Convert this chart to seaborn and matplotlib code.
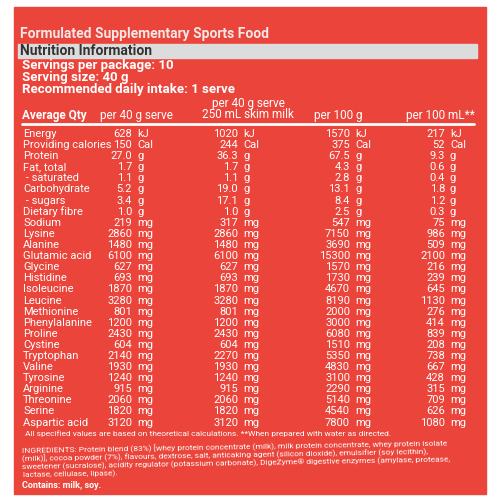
import matplotlib
matplotlib.use("Agg")
import matplotlib.pyplot as plt
import seaborn as sns

sns.set_theme(style="white")
plt.rcParams['font.family'] = ['Roboto', 'DejaVu Sans']

NUTRIENTS = ["Energy", "Providing calories", "Protein", "Fat, total", " - saturated",
             "Carbohydrate", " - sugars", "Dietary fibre", "Sodium", "Lysine", "Alanine",
             "Glutamic acid", "Glycine", "Histidine", "Isoleucine", "Leucine", "Methionine",
             "Phenylalanine", "Proline", "Cystine", "Tryptophan", "Valine", "Tyrosine",
             "Arginine", "Threonine", "Serine", "Aspartic acid"]
UNITS = ["kJ", "Cal", "g", "g", "g", "g", "g", "g"] + ["mg"] * 19
PER_SERVE = ["628", "150", "27.0", "1.7", "1.1", "5.2", "3.4", "1.0", "219", "2860", "1480",
             "6100", "627", "693", "1870", "3280", "801", "1200", "2430", "604", "2140",
             "1930", "1240", "915", "2060", "1820", "3120"]
PER_SERVE_MILK = ["1020", "244", "36.3", "1.7", "1.1", "19.0", "17.1", "1.0", "317", "2860",
                  "1480", "6100", "627", "693", "1870", "3280", "801", "1200", "2430", "604",
                  "2270", "1930", "1240", "915", "2060", "1820", "3120"]
PER_100G = ["1570", "375", "67.5", "4.3", "2.8", "13.1", "8.4", "2.5", "547", "7150", "3690",
            "15300", "1570", "1730", "4670", "8190", "2000", "3000", "6080", "1510", "5350",
            "4830", "3100", "2290", "5140", "4540", "7800"]
PER_100ML = ["217", "52", "9.3", "0.6", "0.4", "1.8", "1.2", "0.3", "75", "986", "509",
             "2100", "216", "239", "645", "1130", "276", "414", "839", "208", "738", "667",
             "428", "315", "709", "626", "1080"]
HEADERS = ["Average Qty", "per 40 g serve", "per 40 g serve\n250 mL skim milk", "per 100 g", "per 100 mL**"]

RED = "#ea443b"
fig = plt.figure(figsize=(5, 5), dpi=100, facecolor="white")
ax = fig.add_axes([0, 0, 1, 1])
ax.set_xlim(0, 500)
ax.set_ylim(500, 0)
ax.axis("off")
ax.add_patch(plt.Rectangle((14, 7), 472, 487, color=RED, zorder=0))
ax.add_patch(plt.Rectangle((18, 44), 459, 14, color="#dcdcdc", zorder=1))

w = "white"
ax.text(20, 34, "Formulated Supplementary Sports Food", color="#f4e8e6", fontsize=10,
        fontweight="bold", va="center")
ax.text(20, 51, "Nutrition Information", color="#333333", fontsize=10, fontweight="bold", va="center")
for i, s in enumerate(["Servings per package: 10", "Serving size: 40 g",
                       "Recommended daily intake: 1 serve"]):
    ax.text(22, 66 + i * 12, s, color=w, fontsize=9.5, fontweight="bold", va="center")

ax.text(22, 115, HEADERS[0], color=w, fontsize=8.5, fontweight="bold", va="center")
ax.text(136, 115, HEADERS[1], color=w, fontsize=8.5, va="center", ha="center")
ax.text(248, 109, HEADERS[2], color=w, fontsize=8.5, va="center", ha="center", linespacing=0.85)
ax.text(338, 115, HEADERS[3], color=w, fontsize=8.5, va="center", ha="center")
ax.text(440, 115, HEADERS[4], color=w, fontsize=8.5, va="center", ha="center")
ax.plot([22, 474], [124, 124], color=w, lw=2)

cols = [(PER_SERVE, 132), (PER_SERVE_MILK, 238), (PER_100G, 350), (PER_100ML, 445)]
step = 11.1
for r, name in enumerate(NUTRIENTS):
    y = 134 + r * step
    ax.text(23, y, name, color=w, fontsize=8, va="center")
    for vals, xr in cols:
        ax.text(xr, y, vals[r], color=w, fontsize=8, va="center", ha="right")
        ax.text(xr + 5, y, UNITS[r], color=w, fontsize=8, va="center", ha="left")

ax.text(25, 434, "All specified values are based on theoretical calculations. **When prepared with water as directed.",
        color=w, fontsize=6.0, va="center")
ingred = ("INGREDIENTS: Protein blend (83%) [whey protein concentrate (milk), milk protein concentrate, whey protein isolate\n"
          "(milk)], cocoa powder (7%), flavours, dextrose, salt, anticaking agent (silicon dioxide), emulsifier (soy lecithin),\n"
          "sweetener (sucralose), acidity regulator (potassium carbonate), DigeZyme\u00ae digestive enzymes (amylase, protease,\n"
          "lactase, cellulase, lipase).")
ax.text(22, 459, ingred, color=w, fontsize=6.0, va="center", linespacing=1.05, rotation=1)
ax.text(22, 485, "Contains: milk, soy.", color=w, fontsize=6.5, fontweight="bold", va="center")

fig.savefig("out.png", dpi=100, facecolor="white")
